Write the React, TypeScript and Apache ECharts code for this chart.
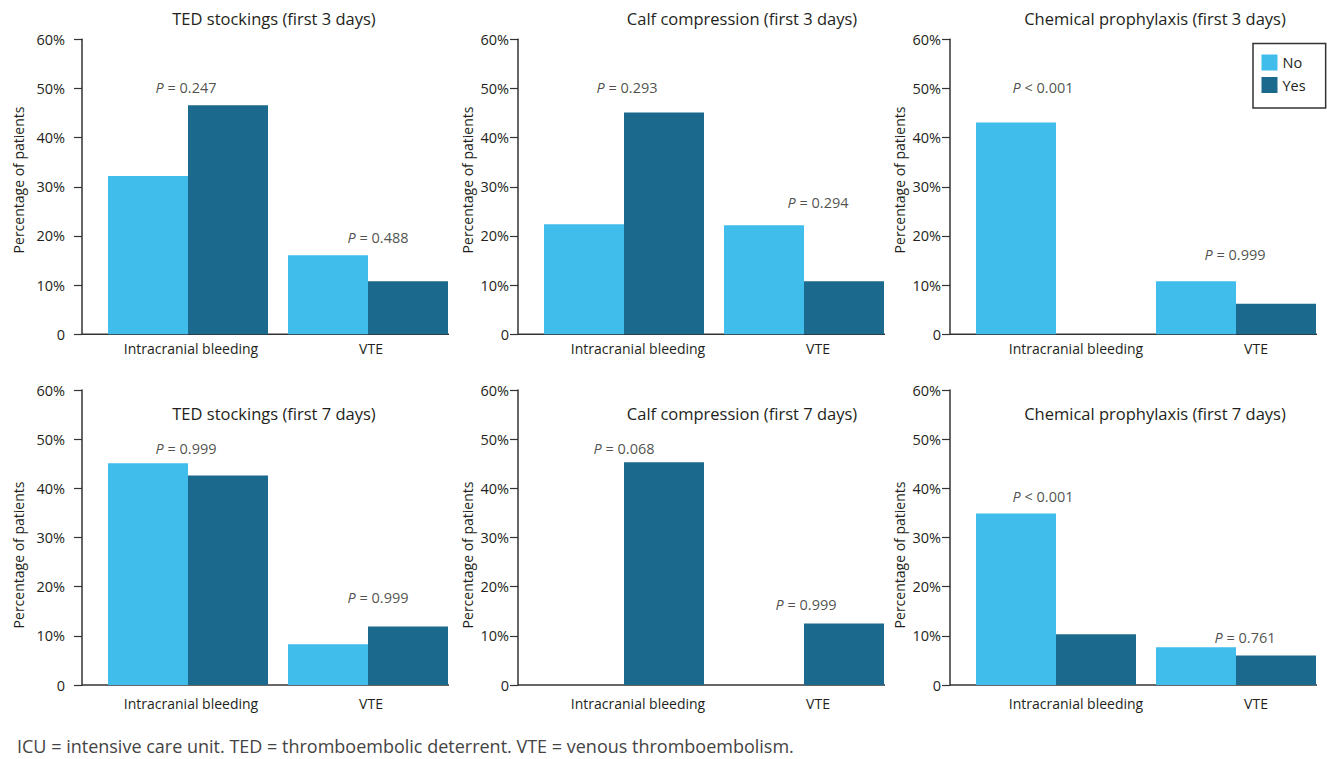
import React, { useEffect, useRef } from "react";
import * as echarts from "echarts";

// ---------- data ----------
const categories = ["Intracranial bleeding", "VTE"];
const seriesNames = ["No", "Yes"];
const panelTitles = [
  "TED stockings (first 3 days)",
  "Calf compression (first 3 days)",
  "Chemical prophylaxis (first 3 days)",
  "TED stockings (first 7 days)",
  "Calf compression (first 7 days)",
  "Chemical prophylaxis (first 7 days)",
];
const noValues = [
  [32.2, 16.1],
  [22.4, 22.2],
  [43.1, 10.8],
  [45.1, 8.3],
  [0, 0],
  [34.9, 7.7],
];
const yesValues = [
  [46.6, 10.8],
  [45.1, 10.8],
  [0, 6.2],
  [42.6, 11.9],
  [45.3, 12.5],
  [10.3, 6.0],
];
const pValues = [
  ["= 0.247", "= 0.488"],
  ["= 0.293", "= 0.294"],
  ["< 0.001", "= 0.999"],
  ["= 0.999", "= 0.999"],
  ["= 0.068", "= 0.999"],
  ["< 0.001", "= 0.761"],
];
const yTicks = [0, 10, 20, 30, 40, 50, 60];
const yAxisTitle = "Percentage of patients";
const footnote =
  "ICU = intensive care unit. TED = thromboembolic deterrent. VTE = venous thromboembolism.";

// ---------- layout (positions / styles) ----------
const COL_AXIS_X = [82, 518, 950];
const COL_GRID_LEFT = [98, 534, 966];
const ROW_TOP = [39.3, 390];
const GRID_W = 360;
const GRID_H = 295;
const Y_LABEL_MARGIN = [17, 9, 9];
const X_LABEL_SHIFT = [3, 14, 20];
const X_LABEL_MARGIN = [7, 11];
const TITLE_X = [274, 742, 1155];
const TITLE_Y = [18, 413];
const YNAME_X = [18, 467, 899];
const YNAME_Y = [180, 555];
// P-label anchor heights (axis units) and horizontal nudges (px)
const P_ANCHOR = [
  [50.1, 19.6],
  [50.1, 26.9],
  [50.1, 16.3],
  [48.2, 17.7],
  [48.2, 16.4],
  [38.4, 9.6],
];
const P_DX = [
  [-2, 10],
  [3, 14],
  [-13, -1],
  [-2, 10],
  [0, 2],
  [-13, 9],
];

const COLORS = ["#41BDEC", "#1B698D"];
const FONT = '"Open Sans", sans-serif';
const TEXT = "#231F20";
const AXIS = "#333";

export default function App() {
  const ref = useRef<HTMLDivElement>(null);

  useEffect(() => {
    if (!ref.current) return;
    const chart = echarts.init(ref.current, undefined, { renderer: "svg" });

    const grids: any[] = [];
    const xAxes: any[] = [];
    const yAxes: any[] = [];
    const series: any[] = [];
    const graphics: any[] = [];

    for (let i = 0; i < 6; i++) {
      const col = i % 3;
      const row = Math.floor(i / 3);
      grids.push({
        left: COL_GRID_LEFT[col],
        top: ROW_TOP[row],
        width: GRID_W,
        height: GRID_H,
        containLabel: false,
      });
      xAxes.push({
        type: "category",
        gridIndex: i,
        data: categories,
        axisLine: { show: false },
        axisTick: { show: false },
        axisLabel: {
          color: TEXT,
          fontFamily: FONT,
          fontSize: 14,
          margin: X_LABEL_MARGIN[row],
          padding: [0, 0, 0, 2 * X_LABEL_SHIFT[col]],
          interval: 0,
        },
      });
      yAxes.push({
        type: "value",
        gridIndex: i,
        min: yTicks[0],
        max: yTicks[yTicks.length - 1],
        interval: 10,
        offset: COL_GRID_LEFT[col] - COL_AXIS_X[col],
        splitLine: { show: false },
        axisLine: { show: true, lineStyle: { color: AXIS, width: 1.5 } },
        axisTick: { show: true, length: 8, lineStyle: { color: AXIS, width: 1.2 } },
        axisLabel: {
          color: TEXT,
          fontFamily: FONT,
          fontSize: 14.5,
          margin: Y_LABEL_MARGIN[col],
          formatter: (v: number) => (v === 0 ? "0" : v + "%"),
        },
      });
      [noValues, yesValues].forEach((vals, s) => {
        series.push({
          type: "bar",
          name: seriesNames[s],
          xAxisIndex: i,
          yAxisIndex: i,
          data: vals[i],
          barWidth: 80,
          barGap: "0%",
          itemStyle: { color: COLORS[s] },
          silent: true,
        });
      });
      series.push({
        type: "scatter",
        name: "p" + i,
        xAxisIndex: i,
        yAxisIndex: i,
        symbolSize: 1,
        itemStyle: { color: "rgba(0,0,0,0)" },
        silent: true,
        data: categories.map((_, j) => ({
          value: [j, P_ANCHOR[i][j]],
          label: { offset: [P_DX[i][j], 0] },
        })),
        label: {
          show: true,
          position: "inside",
          formatter: (p: any) => "{i|P}{n| " + pValues[i][p.dataIndex] + "}",
          rich: {
            i: { fontStyle: "italic", fontFamily: FONT, fontSize: 14.5, color: TEXT },
            n: { fontFamily: FONT, fontSize: 14.5, color: TEXT },
          },
        },
      });
      const bottom = ROW_TOP[row] + GRID_H;
      graphics.push({
        type: "line",
        shape: {
          x1: COL_AXIS_X[col],
          y1: bottom,
          x2: COL_GRID_LEFT[col] + GRID_W - 9,
          y2: bottom,
        },
        style: { stroke: AXIS, lineWidth: 1.5 },
        silent: true,
      });
      graphics.push({
        type: "text",
        x: TITLE_X[col],
        y: TITLE_Y[row],
        style: {
          text: panelTitles[i],
          align: "center",
          verticalAlign: "middle",
          fontFamily: FONT,
          fontSize: 16.5,
          fill: TEXT,
        },
      });
      graphics.push({
        type: "text",
        x: YNAME_X[col],
        y: YNAME_Y[row],
        rotation: Math.PI / 2,
        style: {
          text: yAxisTitle,
          align: "center",
          verticalAlign: "middle",
          fontFamily: FONT,
          fontSize: 14,
          fill: TEXT,
        },
      });
    }

    graphics.push({
      type: "text",
      x: 17,
      y: 746,
      style: {
        text: footnote,
        align: "left",
        verticalAlign: "middle",
        fontFamily: FONT,
        fontSize: 18,
        fill: "#444",
      },
    });

    chart.setOption({
      animation: false,
      backgroundColor: "#fff",
      grid: grids,
      xAxis: xAxes,
      yAxis: yAxes,
      series,
      graphic: graphics,
      legend: {
        data: seriesNames,
        orient: "vertical",
        left: 1253,
        top: 43.5,
        padding: [11, 20, 15, 8.5],
        borderColor: "#333",
        borderWidth: 1.5,
        itemWidth: 16,
        itemHeight: 16,
        itemGap: 6.5,
        icon: "rect",
        selectedMode: false,
        textStyle: { fontFamily: FONT, fontSize: 14.5, color: TEXT },
      },
    });

    return () => chart.dispose();
  }, []);

  return (
    <div
      ref={ref}
      style={{ position: "fixed", left: 0, top: 0, width: 1327, height: 759 }}
    />
  );
}
